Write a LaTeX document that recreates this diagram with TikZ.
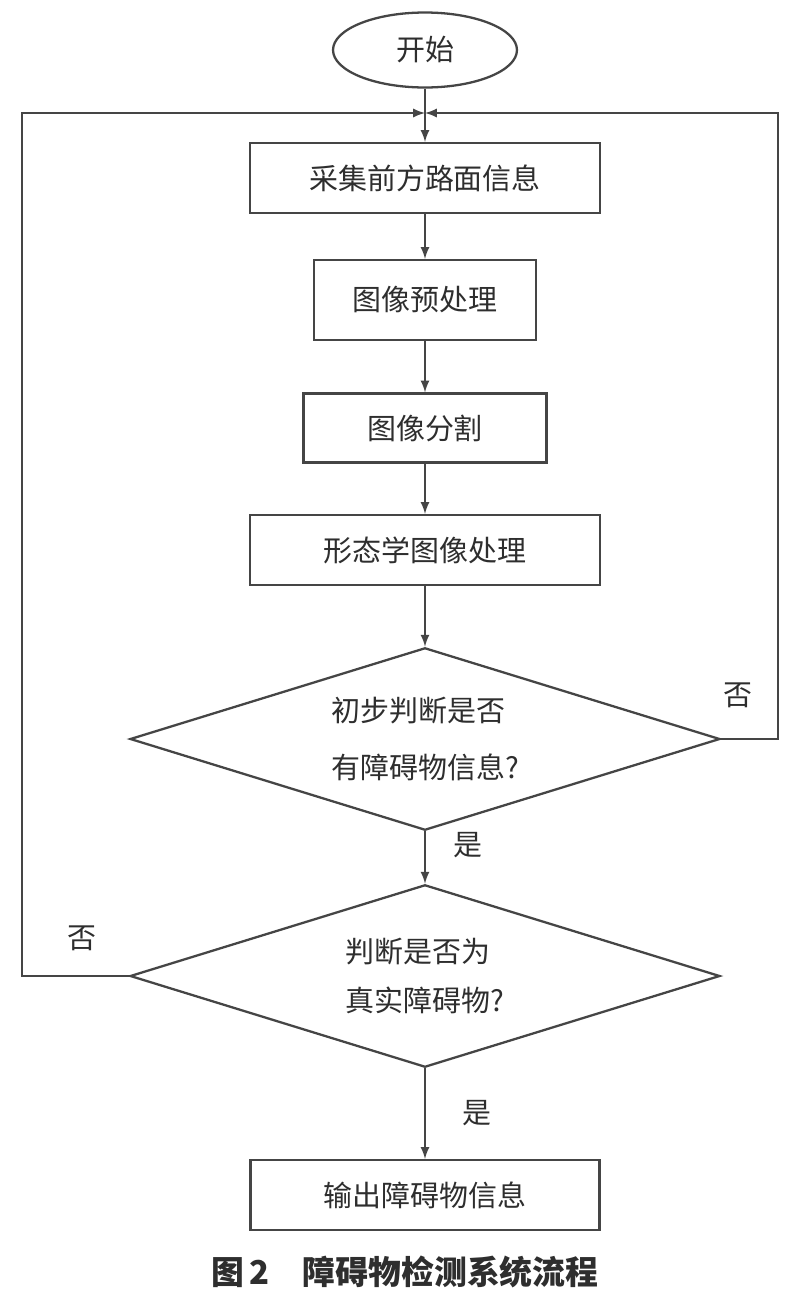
\documentclass[tikz,border=0pt]{standalone}
\usepackage{fontspec}
\setmainfont{Noto Sans CJK SC}
\usetikzlibrary{arrows,shapes.geometric}

\definecolor{linegray}{HTML}{454545}
\definecolor{textgray}{HTML}{2E2E2E}

\tikzset{
  base/.style={draw=linegray,line width=1.3pt,fill=white,text=textgray,inner sep=0pt,
    font=\fontsize{16.5pt}{20pt}\selectfont},
  term/.style={base,ellipse,minimum width=3.68cm,minimum height=1.5cm},
  box/.style={base,rectangle,minimum width=#1,minimum height=1.4cm},
  box/.default=7cm,
  judge/.style={base,diamond,aspect=3.2,minimum width=11.8cm,minimum height=3.65cm,align=left},
  flow/.style={draw=linegray,line width=1.3pt},
  lab/.style={text=textgray,font=\fontsize{16.5pt}{20pt}\selectfont}
}

\begin{document}
\begin{tikzpicture}[x=0.02cm,y=-0.02cm,>=latex]
\useasboundingbox (0,0) rectangle (798,1302);
% nodes
\node[term] (start) at (425,50) {开始};
\node[box=7cm] (collect) at (425,178) {采集前方路面信息};
\node[box=4.44cm,minimum height=1.6cm] (prep) at (425,300) {图像预处理};
\node[box=4.86cm,minimum height=1.38cm] (seg) at (425,428) {图像分割};
\node[box=7cm] (morph) at (425,550) {形态学图像处理};
\node[judge,font=\fontsize{16.5pt}{32pt}\selectfont] (judge1) at (425,739) {初步判断是否\\有障碍物信息?};
\node[judge,font=\fontsize{16.5pt}{28pt}\selectfont] (judge2) at (425,976) {判断是否为\\真实障碍物?};
\node[box=6.98cm] (output) at (425,1195) {输出障碍物信息};
\coordinate (join) at (425,113);
\coordinate (rturn) at (778,113);
\coordinate (lturn) at (22,113);
% labels
\node[lab] (no1) at (738,695) {否};
\node[lab] (yes1) at (468,845) {是};
\node[lab] (no2) at (82,938) {否};
\node[lab] (yes2) at (477,1113) {是};
\node[text=textgray,font=\fontsize{18.7pt}{22pt}\selectfont\bfseries] (caption) at (405,1272) {图\,2\hspace{1em}障碍物检测系统流程};
% connectors
\draw[flow,->] (start) -- (collect);
\draw[flow,->] (collect) -- (prep);
\draw[flow,->] (prep) -- (seg);
\draw[flow,->] (seg) -- (morph);
\draw[flow,->] (morph) -- (judge1);
\draw[flow,->] (judge1) -- (judge2);
\draw[flow,->] (judge2) -- (output);
\draw[flow,->] (judge1.east) -| (rturn) -- (join);
\draw[flow,->] (judge2.west) -| (lturn) -- (join);
\end{tikzpicture}
\end{document}
